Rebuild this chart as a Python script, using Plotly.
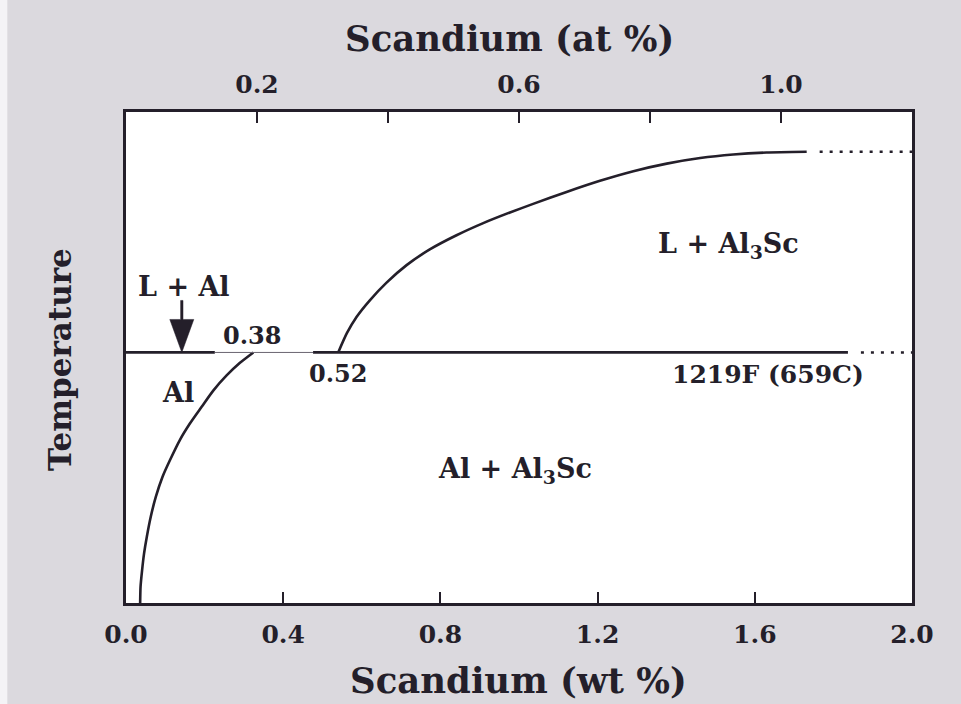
import plotly.graph_objects as go

# ---- data (wt % Sc vs temperature, arbitrary deg C scale; eutectic at 659 C) ----
solvus_wt = [0.036, 0.037, 0.041, 0.046, 0.053, 0.063, 0.076, 0.093, 0.112, 0.137,
             0.163, 0.193, 0.222, 0.256, 0.290, 0.324]
solvus_T = [560.0, 566.4, 573.0, 579.6, 586.2, 594.1, 602.0, 609.9, 616.5, 624.4,
            631.0, 637.6, 643.9, 649.9, 654.9, 659.0]

liquidus_wt = [0.540, 0.562, 0.587, 0.621, 0.663, 0.714, 0.773, 0.841, 0.909, 0.977,
               1.036, 1.121, 1.206, 1.291, 1.376, 1.461, 1.545, 1.630, 1.732]
liquidus_T = [659.0, 666.6, 673.1, 679.7, 686.6, 693.5, 699.7, 705.3, 710.1, 714.3,
              717.7, 722.4, 726.8, 730.6, 733.6, 735.8, 737.2, 738.0, 738.3]
liquidus_ext_wt = [1.765, 2.0]

eutectic_T = 659.0
eutectic_thick_wt = [0.0, 0.226, None, 0.476, 1.837]
eutectic_thin_wt = [0.226, 0.476]
eutectic_ext_wt = [1.87, 2.0]

arrow_wt = 0.142

wt_ticks = [0.0, 0.4, 0.8, 1.2, 1.6, 2.0]
wt_labels = ["0.0", "0.4", "0.8", "1.2", "1.6", "2.0"]
at_ticks = [0.2, 0.4, 0.6, 0.8, 1.0]
at_labels = ["0.2", "", "0.6", "", "1.0"]

INK = "#241f2a"
FONT = "DejaVu Serif"

fig = go.Figure()

fig.add_trace(go.Scatter(x=solvus_wt, y=solvus_T, mode="lines",
                         line=dict(color=INK, width=2.6, shape="spline", smoothing=0.6),
                         hoverinfo="skip"))
fig.add_trace(go.Scatter(x=liquidus_wt, y=liquidus_T, mode="lines",
                         line=dict(color=INK, width=2.6, shape="spline", smoothing=0.6),
                         hoverinfo="skip"))
fig.add_trace(go.Scatter(x=liquidus_ext_wt, y=[liquidus_T[-1]] * len(liquidus_ext_wt), mode="lines",
                         line=dict(color=INK, width=2.4, dash="3px,7px"), hoverinfo="skip"))
fig.add_trace(go.Scatter(x=eutectic_thick_wt,
                         y=[None if v is None else eutectic_T for v in eutectic_thick_wt],
                         mode="lines", line=dict(color=INK, width=2.8), hoverinfo="skip"))
fig.add_trace(go.Scatter(x=eutectic_thin_wt, y=[eutectic_T] * len(eutectic_thin_wt), mode="lines",
                         line=dict(color="#6a6470", width=1), hoverinfo="skip"))
fig.add_trace(go.Scatter(x=eutectic_ext_wt, y=[eutectic_T] * len(eutectic_ext_wt), mode="lines",
                         line=dict(color=INK, width=2.4, dash="3px,7px"), hoverinfo="skip"))
# invisible trace to anchor the top (at %) axis
fig.add_trace(go.Scatter(x=at_ticks, y=[eutectic_T] * len(at_ticks), xaxis="x2", mode="markers",
                         marker=dict(size=1, opacity=0), hoverinfo="skip"))

# arrow (shaft + head) pointing at the eutectic line
fig.add_shape(type="path", xref="x", yref="y", xsizemode="pixel", ysizemode="pixel",
              xanchor=arrow_wt, yanchor=eutectic_T,
              path="M 0,0 L -12,33 L -1.2,33 L -1.2,52 L 1.2,52 L 1.2,33 L 12,33 Z",
              fillcolor=INK, line=dict(color=INK, width=0.5))

# left white scan edge
fig.add_shape(type="rect", xref="paper", yref="paper", x0=-0.1603, x1=-0.151, y0=-0.3, y1=1.3,
              fillcolor="#f4f3f6", line=dict(width=0), layer="below")


def note(x, y, text, size):
    fig.add_annotation(x=x, y=y, text=text, showarrow=False, xref="x", yref="y",
                       font=dict(family=FONT, size=size, color=INK, weight="bold"))


note(0.148, 684.9, "L + Al", 27)
note(0.321, 665.6, "0.38", 24)
note(0.539, 650.6, "0.52", 24)
note(0.132, 643.0, "Al", 27)
note(1.532, 701.4, "L + Al<sub>3</sub>Sc", 27)
note(1.634, 650.1, "1219F (659C)", 25)
note(0.990, 612.5, "Al + Al<sub>3</sub>Sc", 27)

# axis titles
title_font = dict(family=FONT, size=35.5, color=INK, weight="bold")
fig.add_annotation(text="Scandium (wt %)", xref="paper", yref="paper", x=0.499, y=0,
                   yanchor="middle", yshift=-77, showarrow=False, font=title_font)
fig.add_annotation(text="Scandium (at %)", xref="paper", yref="paper", x=0.488, y=1,
                   yanchor="middle", yshift=74, showarrow=False, font=title_font)
fig.add_annotation(text="Temperature", xref="paper", yref="paper", x=0, y=0.495,
                   xanchor="center", yanchor="middle",
                   xshift=-66, textangle=-90, showarrow=False,
                   font=dict(family=FONT, size=31, color=INK, weight="bold"))

tickfont = dict(family=FONT, size=25, color=INK, weight="bold")
fig.update_layout(
    width=961, height=704,
    margin=dict(l=126, r=49, t=112, b=101),
    paper_bgcolor="#dbd9de",
    plot_bgcolor="white",
    showlegend=False,
    xaxis=dict(range=[0, 2], tickvals=wt_ticks, ticktext=wt_labels, ticks="inside",
               ticklen=11, tickwidth=2, tickcolor=INK, showline=True, linewidth=2.5,
               linecolor=INK, mirror=True, showgrid=False, zeroline=False,
               tickfont=tickfont, ticklabelstandoff=7),
    xaxis2=dict(range=[0, 1.2], overlaying="x", side="top", tickvals=at_ticks,
                ticktext=at_labels, ticks="inside", ticklen=11, tickwidth=2, tickcolor=INK,
                showline=False, showgrid=False, zeroline=False, tickfont=tickfont,
                ticklabelstandoff=13),
    yaxis=dict(range=[560, 754], showticklabels=False, ticks="", showline=True,
               linewidth=2.5, linecolor=INK, mirror=True, showgrid=False, zeroline=False),
)

fig.write_html("out.html")
